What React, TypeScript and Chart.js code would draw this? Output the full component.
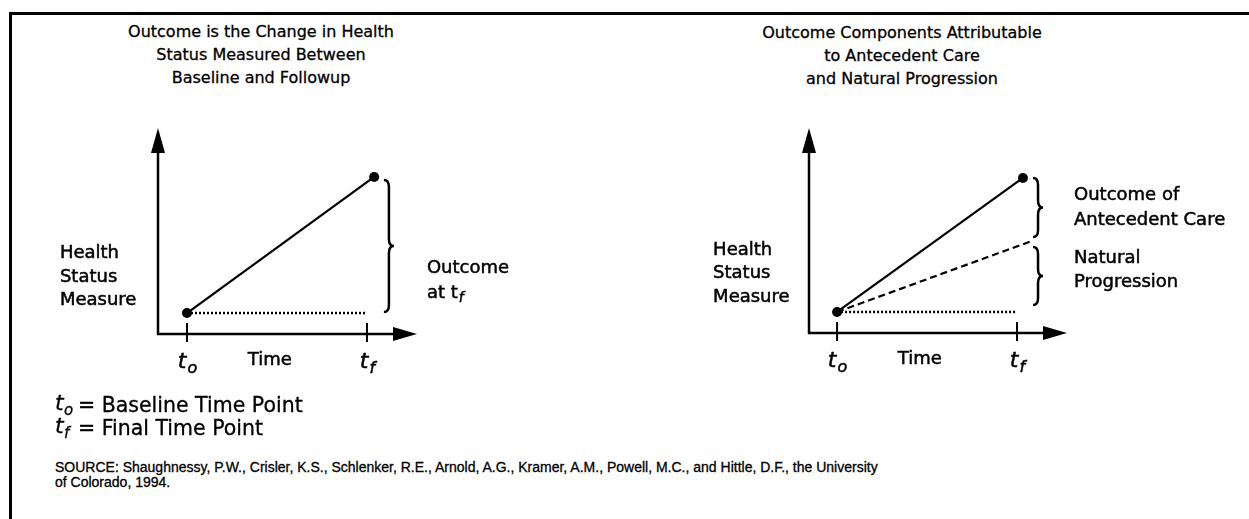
import React, { useEffect, useRef } from "react";
import { Chart, registerables } from "chart.js";

Chart.register(...registerables);

// ---------- data ----------
const leftTitle = ["Outcome is the Change in Health", "Status Measured Between", "Baseline and Followup"];
const rightTitle = ["Outcome Components Attributable", "to Antecedent Care", "and Natural Progression"];
const yAxisLabel = ["Health", "Status", "Measure"];
const timeLabel = "Time";
const tickValues = [0, 1]; // t0, tf
const tickMain = ["t", "t"];
const tickSub = ["o", "f"];

const leftOutcome = [{ x: 0, y: 0 }, { x: 1.04, y: 1 }];
const leftBaseline = [{ x: 0, y: 0 }, { x: 1, y: 0 }];

const rightOutcome = [{ x: 0, y: 0 }, { x: 1.033, y: 1 }];
const rightNatural = [{ x: 0, y: 0 }, { x: 1.083, y: 0.53 }];
const rightBaseline = [{ x: 0, y: 0 }, { x: 1, y: 0 }];

const legendLines = [
  { sub: "o", text: "= Baseline Time Point" },
  { sub: "f", text: "= Final Time Point" },
];
const sourceLines = [
  "SOURCE: Shaughnessy, P.W., Crisler, K.S., Schlenker, R.E., Arnold, A.G., Kramer, A.M., Powell, M.C., and Hittle, D.F., the University",
  "of Colorado, 1994.",
];

const FONT = '"DejaVu Sans", sans-serif';
const SRC_FONT = '"Liberation Sans", Arial, sans-serif';

type Note = { x: number; y: number; text: string; sub?: string };
type Brace = { x: number; top: number; bottom: number };
type Panel = {
  braces: Brace[];
  notes: Note[];
  yLabelX: number;
  yLabelY: number[];
  timeX: number;
};

const leftPanel: Panel = {
  braces: [{ x: 1.122, top: 0.978, bottom: 0.007 }],
  notes: [
    { x: 1.333, y: 0.33, text: "Outcome" },
    { x: 1.333, y: 0.147, text: "at t", sub: "f" },
  ],
  yLabelX: -0.706,
  yLabelY: [0.441, 0.265, 0.096],
  timeX: 0.46,
};

const rightPanel: Panel = {
  braces: [
    { x: 1.117, top: 1.0, bottom: 0.56 },
    { x: 1.117, top: 0.485, bottom: 0.052 },
  ],
  notes: [
    { x: 1.317, y: 0.873, text: "Outcome of" },
    { x: 1.317, y: 0.687, text: "Antecedent Care" },
    { x: 1.317, y: 0.403, text: "Natural" },
    { x: 1.317, y: 0.224, text: "Progression" },
  ],
  yLabelX: -0.689,
  yLabelY: [0.463, 0.291, 0.112],
  timeX: 0.46,
};

function heavyText(ctx: CanvasRenderingContext2D, t: string, x: number, y: number) {
  ctx.fillText(t, x, y);
  ctx.lineWidth = 0.5;
  ctx.strokeText(t, x, y);
}

function drawSub(
  ctx: CanvasRenderingContext2D,
  x: number,
  y: number,
  main: string,
  sub: string,
  mainFont: string,
  subFont: string,
  center: boolean,
  subDy: number
) {
  ctx.font = mainFont;
  const w1 = ctx.measureText(main).width;
  ctx.font = subFont;
  const w2 = ctx.measureText(sub).width;
  const x0 = center ? x - (w1 + w2) / 2 : x;
  ctx.textAlign = "left";
  ctx.textBaseline = "alphabetic";
  ctx.font = mainFont;
  heavyText(ctx, main, x0, y);
  ctx.font = subFont;
  heavyText(ctx, sub, x0 + w1 + 1, y + subDy);
}

function drawBrace(ctx: CanvasRenderingContext2D, x: number, yTop: number, yBot: number) {
  const w = 7;
  const mid = (yTop + yBot) / 2;
  ctx.beginPath();
  ctx.moveTo(x - 5, yTop);
  ctx.quadraticCurveTo(x, yTop, x, yTop + w);
  ctx.lineTo(x, mid - w);
  ctx.quadraticCurveTo(x, mid, x + 5, mid);
  ctx.quadraticCurveTo(x, mid, x, mid + w);
  ctx.lineTo(x, yBot - w);
  ctx.quadraticCurveTo(x, yBot, x - 5, yBot);
  ctx.stroke();
}

function makePlugin(panel: Panel) {
  return {
    id: "diagram",
    afterDraw(chart: any) {
      const ctx: CanvasRenderingContext2D = chart.ctx;
      const { left, right, top, bottom } = chart.chartArea;
      const xs = chart.scales.x;
      const ys = chart.scales.y;
      ctx.save();
      ctx.strokeStyle = "#000";
      ctx.fillStyle = "#000";
      ctx.lineCap = "butt";

      // y axis with arrow
      ctx.lineWidth = 2.5;
      ctx.beginPath();
      ctx.moveTo(left, bottom + 1);
      ctx.lineTo(left, top + 12);
      ctx.stroke();
      ctx.beginPath();
      ctx.moveTo(left, top);
      ctx.lineTo(left - 7, top + 25);
      ctx.lineTo(left + 7, top + 25);
      ctx.closePath();
      ctx.fill();

      // x axis with arrow
      ctx.beginPath();
      ctx.moveTo(left - 1, bottom);
      ctx.lineTo(right - 12, bottom);
      ctx.stroke();
      ctx.beginPath();
      ctx.moveTo(right, bottom);
      ctx.lineTo(right - 24, bottom - 7);
      ctx.lineTo(right - 24, bottom + 7);
      ctx.closePath();
      ctx.fill();

      // tick marks
      ctx.lineWidth = 2;
      tickValues.forEach((v) => {
        const px = xs.getPixelForValue(v);
        ctx.beginPath();
        ctx.moveTo(px, bottom - 11);
        ctx.lineTo(px, bottom + 8);
        ctx.stroke();
      });

      // tick labels
      tickValues.forEach((v, i) => {
        const px = xs.getPixelForValue(v);
        drawSub(ctx, px, bottom + 34, tickMain[i], tickSub[i], `italic 22px ${FONT}`, `italic 16px ${FONT}`, true, 5);
      });
      ctx.font = `18px ${FONT}`;
      ctx.textAlign = "center";
      ctx.textBaseline = "middle";
      heavyText(ctx, timeLabel, xs.getPixelForValue(panel.timeX), bottom + 26);

      // y label
      ctx.textAlign = "left";
      yAxisLabel.forEach((t, i) => {
        ctx.font = `18px ${FONT}`;
        ctx.textBaseline = "middle";
        heavyText(ctx, t, xs.getPixelForValue(panel.yLabelX), ys.getPixelForValue(panel.yLabelY[i]));
      });

      // braces
      ctx.lineWidth = 2.5;
      panel.braces.forEach((b) => {
        drawBrace(ctx, xs.getPixelForValue(b.x), ys.getPixelForValue(b.top), ys.getPixelForValue(b.bottom));
      });

      // notes
      panel.notes.forEach((n) => {
        const px = xs.getPixelForValue(n.x);
        const py = ys.getPixelForValue(n.y);
        ctx.font = `18px ${FONT}`;
        ctx.textAlign = "left";
        ctx.textBaseline = "middle";
        heavyText(ctx, n.text, px, py);
        if (n.sub) {
          ctx.font = `18px ${FONT}`;
          const w = ctx.measureText(n.text).width;
          ctx.font = `italic 14px ${FONT}`;
          heavyText(ctx, n.sub, px + w + 1, py + 5);
        }
      });
      ctx.restore();
    },
  };
}

function lineDs(data: { x: number; y: number }[], kind: "solid" | "dotted" | "dashed") {
  return {
    data,
    showLine: true,
    borderColor: "#000",
    backgroundColor: "#000",
    borderWidth: kind === "dotted" ? 2.5 : 2.2,
    borderDash: kind === "dotted" ? [2, 2] : kind === "dashed" ? [7, 4] : [],
    pointRadius: kind === "solid" ? 5 : 0,
    pointBorderWidth: 0,
    pointBackgroundColor: "#000",
    fill: false,
    tension: 0,
  };
}

function PanelChart(props: {
  left: number;
  top: number;
  width: number;
  height: number;
  padding: { left: number; right: number; top: number; bottom: number };
  xRange: [number, number];
  yRange: [number, number];
  datasets: any[];
  panel: Panel;
}) {
  const ref = useRef<HTMLCanvasElement | null>(null);
  useEffect(() => {
    if (!ref.current) return;
    const chart = new Chart(ref.current, {
      type: "scatter",
      data: { datasets: props.datasets },
      options: {
        animation: false,
        responsive: false,
        events: [],
        layout: { padding: props.padding },
        plugins: { legend: { display: false }, tooltip: { enabled: false } },
        scales: {
          x: { type: "linear", display: false, min: props.xRange[0], max: props.xRange[1] },
          y: { type: "linear", display: false, min: props.yRange[0], max: props.yRange[1] },
        },
      },
      plugins: [makePlugin(props.panel)],
    } as any);
    return () => chart.destroy();
  }, []);
  return (
    <canvas
      ref={ref}
      width={props.width}
      height={props.height}
      style={{ position: "absolute", left: props.left, top: props.top, width: props.width, height: props.height }}
    />
  );
}

const heavy: React.CSSProperties = { WebkitTextStroke: "0.3px #000" } as any;

export default function App() {
  return (
    <div
      style={{
        position: "absolute",
        left: 0,
        top: 0,
        width: 1249,
        height: 519,
        overflow: "hidden",
        background: "#fff",
        fontFamily: FONT,
        color: "#000",
      }}
    >
      <div
        style={{
          position: "absolute",
          left: 9,
          top: 12,
          width: 1400,
          height: 700,
          borderTop: "3px solid #000",
          borderLeft: "3px solid #000",
        }}
      />
      <div style={{ ...heavy, position: "absolute", left: 61, top: 20, width: 400, textAlign: "center", fontSize: 16, lineHeight: "23px" }}>
        {leftTitle.map((t, i) => (
          <div key={i}>{t}</div>
        ))}
      </div>
      <div style={{ ...heavy, position: "absolute", left: 702, top: 21, width: 400, textAlign: "center", fontSize: 16, lineHeight: "23px" }}>
        {rightTitle.map((t, i) => (
          <div key={i}>{t}</div>
        ))}
      </div>

      <PanelChart
        left={0}
        top={100}
        width={620}
        height={300}
        padding={{ left: 158, right: 203, top: 28, bottom: 66 }}
        xRange={[-0.161, 1.278]}
        yRange={[-0.154, 1.36]}
        datasets={[lineDs(leftBaseline, "dotted"), lineDs(leftOutcome, "solid")]}
        panel={leftPanel}
      />
      <PanelChart
        left={620}
        top={100}
        width={629}
        height={300}
        padding={{ left: 189, right: 182, top: 28, bottom: 67 }}
        xRange={[-0.156, 1.278]}
        yRange={[-0.157, 1.373]}
        datasets={[lineDs(rightBaseline, "dotted"), lineDs(rightNatural, "dashed"), lineDs(rightOutcome, "solid")]}
        panel={rightPanel}
      />

      {legendLines.map((l, i) => (
        <div key={i} style={{ ...heavy, position: "absolute", left: 55, top: 393 + i * 23, height: 24, whiteSpace: "nowrap" }}>
          <span style={{ position: "absolute", left: 0, top: -2, fontStyle: "italic", fontSize: 22, lineHeight: "24px" }}>t</span>
          <span style={{ position: "absolute", left: 9, top: 5, fontStyle: "italic", fontSize: 15, lineHeight: "24px" }}>{l.sub}</span>
          <span style={{ position: "absolute", left: 23, top: 0, fontSize: 20.5, lineHeight: "24px" }}>{l.text}</span>
        </div>
      ))}

      <div style={{ ...heavy, position: "absolute", left: 55, top: 460, fontFamily: SRC_FONT, fontSize: 14, lineHeight: "15px", whiteSpace: "nowrap" }}>
        {sourceLines.map((s, i) => (
          <div key={i}>{s}</div>
        ))}
      </div>
    </div>
  );
}
